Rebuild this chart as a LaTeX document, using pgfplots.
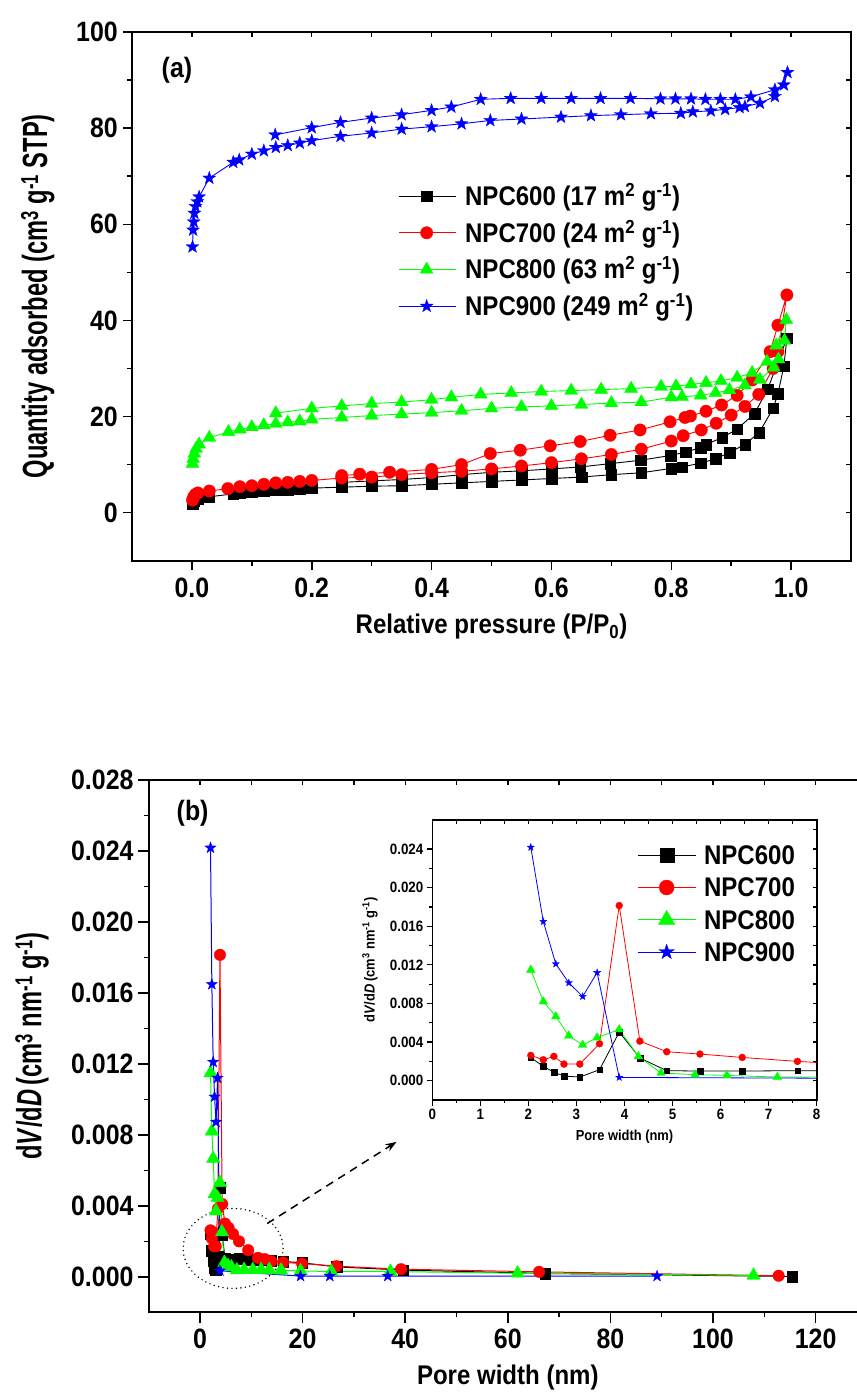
\documentclass[border=0pt]{standalone}
\usepackage{fontspec}
\setmainfont{Liberation Sans}[FakeStretch=0.89]
\usepackage{graphicx}
\usepackage{pgfplots}
\usepackage{pgfplotstable}
\pgfplotsset{compat=1.18}
\usetikzlibrary{arrows.meta}

\newcommand{\fa}{\fontsize{28}{30}\selectfont\bfseries}
\newcommand{\fl}{\fontsize{27}{29}\selectfont\bfseries}
\newcommand{\fy}{\fontsize{35}{37}\selectfont\bfseries}
\newcommand{\fin}{\fontsize{15}{17}\selectfont\bfseries}
\newcommand{\fil}{\fontsize{14.5}{16}\selectfont\bfseries}

% filled five-point star
\pgfdeclareplotmark{fstar}{%
  \pgfpathmoveto{\pgfpointpolar{90}{\pgfplotmarksize}}%
  \pgfpathlineto{\pgfpointpolar{126}{0.4\pgfplotmarksize}}%
  \pgfpathlineto{\pgfpointpolar{162}{\pgfplotmarksize}}%
  \pgfpathlineto{\pgfpointpolar{198}{0.4\pgfplotmarksize}}%
  \pgfpathlineto{\pgfpointpolar{234}{\pgfplotmarksize}}%
  \pgfpathlineto{\pgfpointpolar{270}{0.4\pgfplotmarksize}}%
  \pgfpathlineto{\pgfpointpolar{306}{\pgfplotmarksize}}%
  \pgfpathlineto{\pgfpointpolar{342}{0.4\pgfplotmarksize}}%
  \pgfpathlineto{\pgfpointpolar{18}{\pgfplotmarksize}}%
  \pgfpathlineto{\pgfpointpolar{54}{0.4\pgfplotmarksize}}%
  \pgfpathclose
  \pgfusepathqfillstroke
}

% ---- (a) isotherms: adsorption then desorption
\pgfplotstableread{
x y
0.001 1.9
0.004 2.5
0.010 2.9
0.029 3.3
0.069 3.9
0.080 4.1
0.100 4.3
0.120 4.5
0.140 4.7
0.160 4.8
0.180 4.9
0.200 5.1
0.250 5.3
0.300 5.5
0.350 5.6
0.400 5.9
0.450 6.2
0.500 6.5
0.550 6.8
0.600 7.1
0.650 7.4
0.700 7.9
0.750 8.3
0.800 9.2
0.818 9.5
0.849 10.3
0.874 11.2
0.897 12.5
0.923 14.2
0.947 16.7
0.970 21.7
0.978 24.7
0.988 30.5
0.993 36.3
0.961 25.7
0.939 20.6
0.910 17.4
0.885 15.6
0.858 14.2
0.849 13.5
0.824 12.6
0.799 11.9
0.749 10.9
0.698 10.2
0.648 9.5
0.600 9.1
0.550 8.7
0.500 8.4
0.450 7.9
0.400 7.3
0.350 6.9
0.300 6.6
0.250 6.3
}\isoA
\pgfplotstableread{
x y
0.001 2.6
0.003 3.3
0.006 3.8
0.010 4.1
0.029 4.5
0.060 5.0
0.080 5.4
0.100 5.6
0.120 5.9
0.140 6.2
0.160 6.3
0.180 6.5
0.200 6.7
0.250 7.2
0.300 7.4
0.350 7.9
0.400 8.3
0.450 8.6
0.500 9.1
0.550 9.7
0.600 10.4
0.650 11.2
0.700 12.1
0.750 13.2
0.800 14.9
0.820 16.0
0.850 17.2
0.875 18.6
0.900 20.3
0.923 22.1
0.946 24.6
0.970 30.0
0.978 33.5
0.993 45.3
0.978 39.0
0.965 33.5
0.935 27.6
0.910 24.4
0.884 22.4
0.858 21.1
0.832 20.1
0.823 19.8
0.798 18.9
0.748 17.2
0.698 16.1
0.648 14.8
0.598 13.9
0.548 13.0
0.498 12.3
0.450 10.0
0.400 9.0
0.330 8.4
0.280 8.0
0.250 7.7
}\isoB
\pgfplotstableread{
x y
0.001 10.2
0.002 11.2
0.004 12.3
0.007 13.3
0.012 14.2
0.029 15.6
0.061 16.8
0.080 17.3
0.100 17.8
0.120 18.2
0.140 18.5
0.160 18.8
0.180 19.0
0.200 19.4
0.250 19.8
0.300 20.2
0.350 20.5
0.400 20.8
0.450 21.2
0.500 21.7
0.550 22.0
0.600 22.2
0.650 22.5
0.700 22.8
0.750 23.0
0.800 24.0
0.818 24.1
0.849 24.4
0.874 24.9
0.897 25.5
0.923 26.5
0.948 27.7
0.971 30.2
0.979 31.9
0.989 35.8
0.992 40.1
0.975 34.8
0.960 31.4
0.935 29.1
0.910 28.1
0.883 27.4
0.858 27.0
0.833 26.7
0.808 26.3
0.783 26.2
0.733 25.8
0.683 25.6
0.633 25.4
0.583 25.2
0.533 24.9
0.482 24.6
0.433 24.0
0.400 23.5
0.350 23.0
0.300 22.7
0.250 22.2
0.200 21.7
0.140 20.7
}\isoC
\pgfplotstableread{
x y
0.001 55.3
0.002 58.8
0.003 60.5
0.004 62.3
0.006 63.7
0.009 64.7
0.012 65.7
0.029 69.6
0.069 72.9
0.079 73.4
0.100 74.6
0.120 75.3
0.140 76.0
0.160 76.4
0.180 76.9
0.200 77.4
0.248 78.3
0.300 79.0
0.350 79.8
0.400 80.3
0.450 80.9
0.498 81.6
0.550 81.9
0.616 82.3
0.666 82.6
0.716 82.8
0.766 83.0
0.816 83.1
0.836 83.4
0.866 83.6
0.890 83.9
0.914 84.3
0.923 84.5
0.948 85.2
0.973 86.6
0.994 91.6
0.988 89.0
0.973 88.0
0.933 86.5
0.907 86.0
0.882 86.0
0.857 86.0
0.833 86.1
0.807 86.1
0.782 86.1
0.732 86.2
0.682 86.2
0.633 86.2
0.583 86.2
0.532 86.2
0.482 86.0
0.433 84.4
0.400 83.7
0.350 82.8
0.300 82.1
0.248 81.2
0.200 80.1
0.139 78.6
}\isoD

% ---- (b) pore size distributions
\pgfplotstableread{
x y
2.05 0.00240
2.31 0.00148
2.53 0.00089
2.74 0.00048
3.07 0.00038
3.48 0.00114
3.89 0.00503
4.32 0.00235
4.88 0.00104
5.57 0.00100
6.45 0.00100
7.60 0.00104
9.4 0.00098
11.3 0.00095
12.6 0.00093
13.9 0.00090
16.2 0.00087
19.9 0.00079
26.6 0.00056
39.6 0.00038
67.3 0.00019
115.4 0.00002
}\psdA
\pgfplotstableread{
x y
2.05 0.00262
2.31 0.00217
2.53 0.00252
2.74 0.00172
3.07 0.00172
3.48 0.00383
3.89 0.01814
4.32 0.00410
4.88 0.00300
5.57 0.00276
6.45 0.00241
7.60 0.00200
9.4 0.00150
11.3 0.00107
12.6 0.00100
13.9 0.00088
16.2 0.00081
19.9 0.00075
26.6 0.00060
39.2 0.00043
66.1 0.00028
112.8 0.00006
}\psdB
\pgfplotstableread{
x y
2.05 0.01148
2.31 0.00820
2.57 0.00666
2.84 0.00466
3.13 0.00370
3.43 0.00446
3.89 0.00530
4.29 0.00252
4.76 0.00080
5.47 0.00062
6.13 0.00055
7.18 0.00038
8.6 0.00040
10.3 0.00040
11.9 0.00040
13.5 0.00040
15.8 0.00037
19.6 0.00033
25.6 0.00030
37.1 0.00030
61.9 0.00020
107.9 0.00008
}\psdC
\pgfplotstableread{
x y
2.05 0.02417
2.31 0.01648
2.57 0.01210
2.84 0.01014
3.13 0.00872
3.43 0.01120
3.89 0.00034
19.6 0.00004
25.3 0.00004
36.6 0.00004
89.1 0.00004
}\psdD

\pgfplotsset{
  frame/.style={scale only axis, axis line style={line width=2pt},
    tick style={line width=1.5pt, black}, tick align=outside,
    xtick pos=left, ytick pos=left, major tick length=9pt, minor tick length=5pt,
    /pgf/number format/assume math mode=true, ticklabel style={font=\fa},
    scaled ticks=false},
  mirror/.style={scale only axis, xtick pos=right, ytick pos=right, tick align=inside,
    xticklabels={}, yticklabels={}, major tick length=5pt, scaled ticks=false,
    axis line style={draw=none}, tick style={line width=1.4pt, black}},
  sA/.style={black, line width=0.9pt, mark=square*, mark options={solid, fill=black, draw=black, line width=0.3pt}},
  sB/.style={red, line width=0.9pt, mark=*, mark options={solid, fill=red, draw=red, line width=0.3pt}},
  sC/.style={green, line width=0.9pt, mark=triangle*, mark options={solid, fill=green, draw=green, line width=0.3pt}},
  sD/.style={blue, line width=0.9pt, mark=fstar, mark options={solid, fill=blue, draw=blue, line width=0.3pt}},
  fix1/.style={/pgf/number format/fixed, /pgf/number format/fixed zerofill, /pgf/number format/precision=#1},
}

\begin{document}
\begin{tikzpicture}
\path[use as bounding box] (0pt,0pt) rectangle (857pt,-1398pt);
\clip (0pt,0pt) rectangle (857pt,-1398pt);

% ================= (a)
\begin{axis}[frame, at={(132pt,-560.7pt)}, anchor=south west,
  width=719pt, height=528.7pt,
  xmin=-0.1, xmax=1.1, ymin=-10, ymax=100,
  xtick={0,0.2,0.4,0.6,0.8,1.0}, minor x tick num=1,
  ytick={0,20,40,60,80,100}, minor y tick num=1,
  xticklabel style={fix1=1, inner sep=0pt, yshift=-8pt},
  yticklabel style={inner sep=0pt, xshift=-5pt},
  xlabel={Relative pressure (P/P\textsubscript{0})},
  ylabel={\scalebox{0.76}[1]{\fy Quantity adsorbed (cm\textsuperscript{3} g\textsuperscript{-1} STP)}},
  xlabel style={font=\fl, at={(axis description cs:0.5,-0.125)}, anchor=center},
  ylabel style={at={(axis description cs:-0.131,0.5)}, anchor=center},
  legend image code/.code={\draw[mark repeat=2, mark phase=2, #1] plot coordinates {(0pt,0pt) (28pt,0pt) (57pt,0pt)};},
  legend style={at={(0.37,0.708)}, anchor=north west, draw=none, fill=none,
    inner sep=0pt, row sep=17.7pt, font=\fl,
    nodes={inner xsep=0pt, inner ysep=0pt, text height=19pt, text depth=0pt},
    /tikz/every odd column/.append style={column sep=9pt}},
  legend cell align=left,
]
\addplot[sA, mark size=5.3pt] table {\isoA};
\addplot[sB, mark size=6.2pt] table {\isoB};
\addplot[sC, mark size=7.5pt] table {\isoC};
\addplot[sD, mark size=6.8pt] table {\isoD};
\legend{NPC600 (17 m\textsuperscript{2} g\textsuperscript{-1}),
        NPC700 (24 m\textsuperscript{2} g\textsuperscript{-1}),
        NPC800 (63 m\textsuperscript{2} g\textsuperscript{-1}),
        NPC900 (249 m\textsuperscript{2} g\textsuperscript{-1})}
\node[font=\fontsize{28}{30}\selectfont\bfseries] at (axis cs:-0.025,92.1) {(a)};
\end{axis}
\begin{axis}[mirror, at={(132pt,-560.7pt)}, anchor=south west,
  width=719pt, height=528.7pt,
  xmin=-0.1, xmax=1.1, ymin=-10, ymax=100,
  xtick distance=0.1, ytick distance=10]
\end{axis}

% ================= (b)
\begin{axis}[frame, at={(148.7pt,-1312.3pt)}, anchor=south west,
  width=718.2pt, height=532.5pt,
  major tick length=11pt,
  xmin=-10, xmax=130, ymin=-0.002, ymax=0.028,
  xtick={0,20,40,60,80,100,120}, minor x tick num=1,
  ytick={0,0.004,0.008,0.012,0.016,0.020,0.024,0.028}, minor y tick num=1,
  xticklabel style={inner sep=0pt, yshift=-5pt},
  yticklabel style={fix1=3, inner sep=0pt, xshift=-4pt},
  xlabel={Pore width (nm)},
  ylabel={\scalebox{0.76}[1]{\fy d\textit{V}/d\textit{D}\,(cm\textsuperscript{3} nm\textsuperscript{-1} g\textsuperscript{-1})}},
  xlabel style={font=\fl, at={(axis description cs:0.5,-0.123)}, anchor=center},
  ylabel style={at={(axis description cs:-0.1625,0.5)}, anchor=center},
]
\addplot[sA, line width=1pt, mark size=5.3pt] table {\psdA};
\addplot[sB, line width=1pt, mark size=5.8pt] table {\psdB};
\addplot[sC, line width=1pt, mark size=7.8pt] table {\psdC};
\addplot[sD, line width=1pt, mark size=6pt] table {\psdD};
\draw[line width=1.6pt, line cap=round, dash pattern=on 0pt off 4.5pt]
  (axis cs:6.45,0.0016) ellipse [x radius=50pt, y radius=40pt];
\draw[line width=1.5pt, dash pattern=on 8pt off 6pt, -{Stealth[length=11pt, width=8pt]}]
  (axis cs:13.1,0.0030) -- (axis cs:38.3,0.0076);
\node[font=\fontsize{28}{30}\selectfont\bfseries] at (axis cs:-1.44,0.0261) {(b)};
\end{axis}
\begin{axis}[mirror, at={(148.7pt,-1312.3pt)}, anchor=south west,
  width=718.2pt, height=532.5pt,
  xmin=-10, xmax=130, ymin=-0.002, ymax=0.028,
  xtick distance=10, ytick distance=0.002]
\end{axis}

% ================= inset
\begin{axis}[frame, at={(432.3pt,-1100pt)}, anchor=south west,
  width=384.4pt, height=280pt,
  axis background/.style={fill=white},
  axis line style={line width=1.6pt}, tick style={line width=1.2pt, black},
  major tick length=5.5pt, minor tick length=3pt,
  xmin=0, xmax=8, ymin=-0.002, ymax=0.027,
  xtick={0,1,2,3,4,5,6,7,8}, minor x tick num=1,
  ytick={0,0.004,0.008,0.012,0.016,0.020,0.024}, minor y tick num=1,
  ticklabel style={font=\fin},
  xticklabel style={inner sep=0pt, yshift=-3.5pt},
  yticklabel style={fix1=3, inner sep=0pt, xshift=-3.3pt},
  xlabel={Pore width (nm)},
  ylabel={d\textit{V}/d\textit{D}\,(cm\textsuperscript{3} nm\textsuperscript{-1} g\textsuperscript{-1})},
  xlabel style={font=\fil, at={(axis description cs:0.5,-0.132)}, anchor=center},
  ylabel style={font=\fil, at={(axis description cs:-0.162,0.5)}, anchor=center},
  legend image code/.code={\draw[mark repeat=2, mark phase=2, #1] plot coordinates {(0pt,0pt) (29pt,0pt) (58pt,0pt)};},
  legend style={at={(0.5325,0.909)}, anchor=north west, draw=none, fill=none,
    inner sep=0pt, row sep=13.3pt, font=\fl,
    nodes={inner xsep=0pt, inner ysep=0pt, text height=19pt, text depth=0pt},
    /tikz/every odd column/.append style={column sep=8pt}},
  legend cell align=left,
]
\addplot[sA, line width=0.8pt, mark size=2.8pt, forget plot] table {\psdA};
\addplot[sB, line width=0.8pt, mark size=3.5pt, forget plot] table {\psdB};
\addplot[sC, line width=0.8pt, mark size=5pt, forget plot] table {\psdC};
\addplot[sD, line width=0.8pt, mark size=3.8pt, forget plot] table {\psdD};
\addlegendimage{sA, line width=0.9pt, mark size=7pt}
\addlegendentry{NPC600}
\addlegendimage{sB, line width=0.9pt, mark size=7.5pt}
\addlegendentry{NPC700}
\addlegendimage{sC, line width=0.9pt, mark size=9.5pt}
\addlegendentry{NPC800}
\addlegendimage{sD, line width=0.9pt, mark size=8pt}
\addlegendentry{NPC900}
\end{axis}
\begin{axis}[mirror, at={(432.3pt,-1100pt)}, anchor=south west,
  width=384.4pt, height=280pt, major tick length=4pt,
  xmin=0, xmax=8, ymin=-0.002, ymax=0.027,
  xtick distance=0.5, ytick distance=0.002]
\end{axis}
\end{tikzpicture}
\end{document}
